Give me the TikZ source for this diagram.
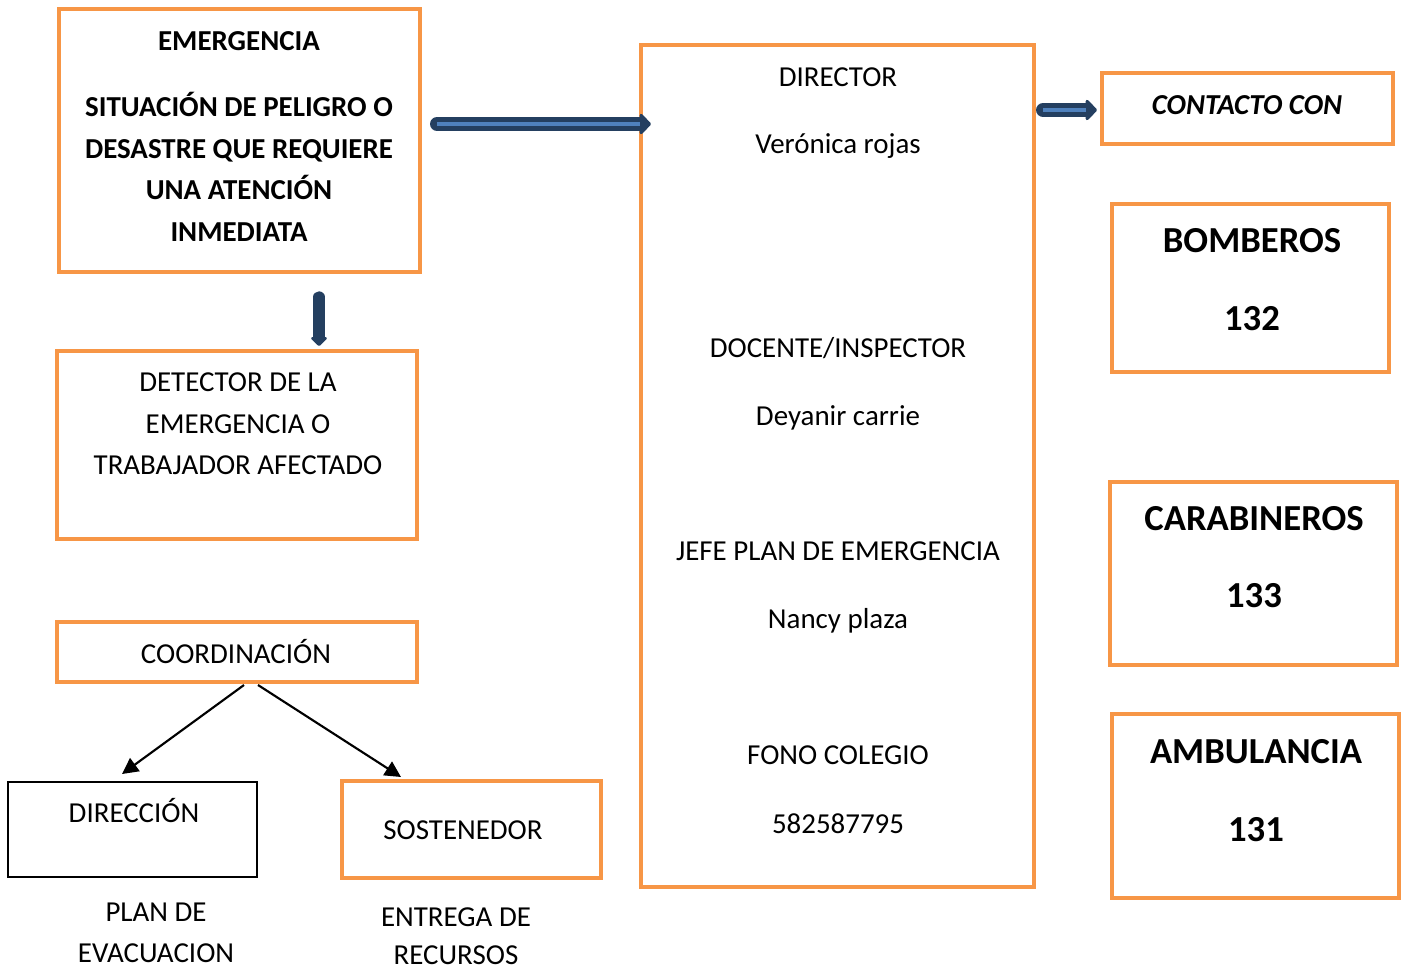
\documentclass[tikz,border=0pt]{standalone}
\usepackage{fontspec}
\setmainfont{Carlito}
\usetikzlibrary{arrows.meta,calc}
\definecolor{orng}{HTML}{F79646}
\definecolor{dkblue}{HTML}{243F60}
\definecolor{ltblue}{HTML}{4F81BD}
\tikzset{
  obox/.style={draw=orng, line width=3pt},
  txt/.style={font=\fontsize{21.7}{26}\selectfont, anchor=base, inner sep=0pt},
  btxt/.style={font=\fontsize{21.7}{26}\selectfont\bfseries, anchor=base, inner sep=0pt},
  bigtxt/.style={font=\fontsize{27.5}{33}\selectfont\bfseries, anchor=base, inner sep=0pt},
  fatarrow/.style={draw=dkblue, line width=10.5pt, line cap=round,
     -{Triangle[width=18pt,length=9pt,round]}},
  fatinner/.style={draw=ltblue, line width=3.2pt},
  thinarrow/.style={draw=black, line width=1.6pt, -{Triangle[width=12pt,length=12pt]}}
}
\begin{document}
\begin{tikzpicture}[x=0.75pt,y=-0.75pt]
\useasboundingbox (0,0) rectangle (1405,971);
% boxes
\draw[obox] (59,9) rectangle (420,272);
\draw[obox] (57,351) rectangle (417,539);
\draw[obox] (57,622) rectangle (417,682);
\coordinate (coordBL) at (244,685);
\coordinate (coordBR) at (258,685);
\draw[draw=black, line width=1.5pt] (8,782) rectangle (257,877);
\draw[obox] (342,781) rectangle (601,878);
\draw[obox] (641,45) rectangle (1034,887);
\draw[obox] (1102,73) rectangle (1393,144);
\draw[obox] (1112,204) rectangle (1389,372);
\draw[obox] (1110,482) rectangle (1397,665);
\draw[obox] (1112,714) rectangle (1399,898);

% text
\node[btxt] (t1) at (239,50) {EMERGENCIA};
\node[btxt] (t2) at (239,116) {SITUACIÓN DE PELIGRO O};
\node[btxt] (t3) at (239,158) {DESASTRE QUE REQUIERE};
\node[btxt] (t4) at (239,199) {UNA ATENCIÓN};
\node[btxt] (t5) at (239,241) {INMEDIATA};

\node[txt] (d1) at (238,391) {DETECTOR DE LA};
\node[txt] (d2) at (238,433) {EMERGENCIA O};
\node[txt] (d3) at (238,474) {TRABAJADOR AFECTADO};

\node[txt] (c1) at (236,663) {COORDINACIÓN};
\node[txt] (dir) at (134,822) {DIRECCIÓN};
\node[txt] (p1) at (156,921) {PLAN DE};
\node[txt] (p2) at (156,962) {EVACUACION};
\node[txt] (sos) at (463,839) {SOSTENEDOR};
\node[txt] (e1) at (456,926) {ENTREGA DE};
\node[txt] (e2) at (456,964) {RECURSOS};

\node[txt] (m1) at (838,86) {DIRECTOR};
\node[txt] (m2) at (838,153) {Verónica rojas};
\node[txt] (m3) at (838,357) {DOCENTE/INSPECTOR};
\node[txt] (m4) at (838,425) {Deyanir carrie};
\node[txt] (m5) at (838,560) {JEFE PLAN DE EMERGENCIA};
\node[txt] (m6) at (838,628) {Nancy plaza};
\node[txt] (m7) at (838,764) {FONO COLEGIO};
\node[txt] (m8) at (838,833) {582587795};

\node[btxt, font=\fontsize{21.7}{26}\selectfont\bfseries\itshape] (cc) at (1247,114) {CONTACTO CON};
\node[bigtxt] (b1) at (1252,252) {BOMBEROS};
\node[bigtxt] (b2) at (1252,330) {132};
\node[bigtxt] (k1) at (1254,530) {CARABINEROS};
\node[bigtxt] (k2) at (1254,607) {133};
\node[bigtxt] (a1) at (1256,763) {AMBULANCIA};
\node[bigtxt] (a2) at (1256,841) {131};

% arrows
\coordinate (ar1s) at (437,124);
\coordinate (ar1e) at (651,124);
\draw[fatarrow] (ar1s) -- (ar1e);
\draw[fatinner] (437,124) -- (640,124);
\coordinate (ar2s) at (1043,110);
\coordinate (ar2e) at (1097,110);
\draw[fatarrow] (ar2s) -- (ar2e);
\draw[fatinner] (1043,110) -- (1086,110);
\coordinate (ar3s) at (319,297);
\coordinate (ar3e) at (319,346);
\draw[draw=dkblue, line width=8.5pt, line cap=round, -{Triangle[width=14pt,length=7pt,round]}] (ar3s) -- (ar3e);

\coordinate (dirT) at (122,774);
\coordinate (sosT) at (401,777);
\draw[thinarrow] (coordBL) -- (dirT);
\draw[thinarrow] (coordBR) -- (sosT);
\end{tikzpicture}
\end{document}
